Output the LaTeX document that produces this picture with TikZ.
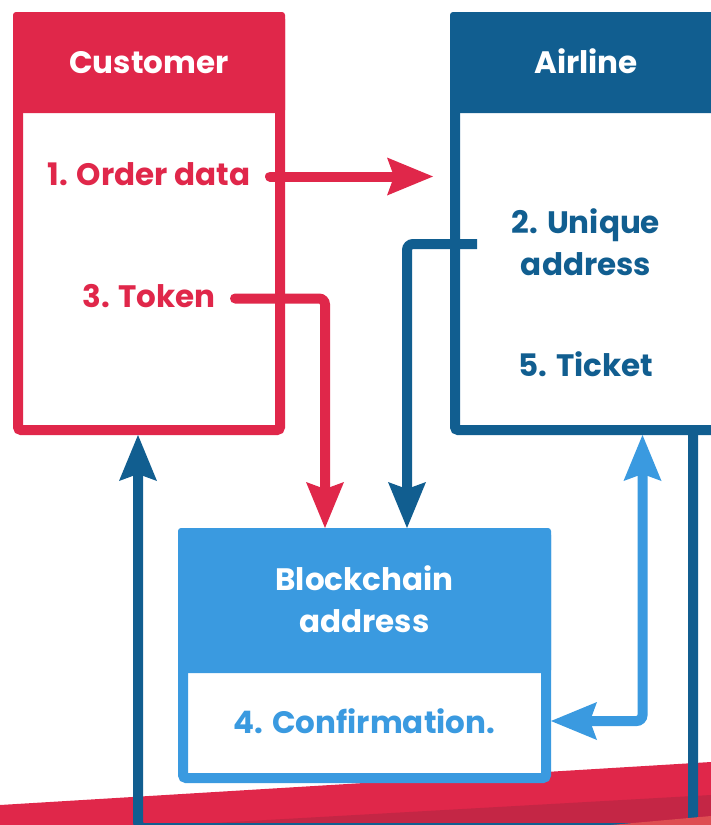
\documentclass[tikz,border=0pt]{standalone}
\usepackage{fontspec}
\setmainfont{Poppins}
\usetikzlibrary{arrows.meta}
\definecolor{cred}{HTML}{E0274A}
\definecolor{cdred}{HTML}{C42645}
\definecolor{csalmon}{HTML}{DE4D52}
\definecolor{cblue}{HTML}{115E90}
\definecolor{clblue}{HTML}{3A9AE0}
\tikzset{
  box/.style={draw, line width=10pt, fill=white, rounded corners=3pt, inner sep=0pt},
  lbl/.style={anchor=base, inner sep=0pt, font=\bfseries\fontsize{31}{36}\selectfont},
  conn/.style={line width=10pt, rounded corners=6pt},
  tip/.style={-{Stealth[length=46pt,width=38pt,inset=7pt,line width=0pt]}},
}
\begin{document}
\begin{tikzpicture}[x=1pt,y=-1pt]
\useasboundingbox (0,0) rectangle (711,825);
\clip (0,0) rectangle (711,825);
\fill[white] (0,0) rectangle (711,825);
% bottom band
\fill[cred] (0,805) -- (711,762) -- (711,830) -- (0,830) -- cycle;
\fill[cdred] (0,835) -- (711,795) -- (711,830) -- cycle;
% boxes
\node[box, draw=cred, minimum width=262pt, minimum height=413pt] (cust) at (149,223.5) {};
\fill[cred, rounded corners=3pt] (13,12) rectangle (285,113);
\node[box, draw=cblue, minimum width=275pt, minimum height=413pt] (air) at (592.5,223.5) {};
\fill[cblue, rounded corners=3pt] (450,12) rectangle (740,113);
\node[box, draw=clblue, minimum width=363pt, minimum height=245pt] (bc) at (364.5,655.5) {};
\fill[clblue, rounded corners=3pt] (178,528) rectangle (551,673);
% labels
\node[lbl, white] (custh) at (149,73) {Customer};
\node[lbl, cred] (order) at (149,185) {1. Order data};
\node[lbl, cred] (token) at (149,307) {3. Token};
\node[lbl, white] (airh) at (586,73) {Airline};
\node[lbl, cblue] (uniq1) at (586,233) {2. Unique};
\node[lbl, cblue] (uniq2) at (586,275) {address};
\node[lbl, cblue] (ticket) at (586,376) {5. Ticket};
\node[lbl, white] (bch1) at (364.5,590) {Blockchain};
\node[lbl, white] (bch2) at (364.5,632) {address};
\node[lbl, clblue] (conf) at (364.5,733) {4. Confirmation.};
% connector end points
\coordinate (oS) at (270,176.5);
\coordinate (oE) at (433,176.5);
\coordinate (tS) at (235,298.5);
\coordinate (tE) at (325,528);
\coordinate (uS) at (477,244);
\coordinate (uE) at (407,528);
\coordinate (cA) at (642.5,435);
\coordinate (cB) at (551,721);
\coordinate (kS) at (693,430);
\coordinate (kR) at (693,828);
\coordinate (kL) at (138,828);
\coordinate (kE) at (138,435);
% connectors
\draw[conn, cred, line cap=round, tip] (oS) -- (oE);
\draw[conn, cred, line cap=round, tip] (tS) -| (tE);
\draw[conn, cblue, tip] (uS) -| (uE);
\draw[conn, clblue, {Stealth[length=46pt,width=38pt,inset=7pt,line width=0pt]}-{Stealth[length=46pt,width=38pt,inset=7pt,line width=0pt]}] (cA) |- (cB);
\draw[conn, cblue, tip] (kS) -- (kR) -- (kL) -- (kE);
\fill[csalmon] (600,826) -- (711,816) -- (711,830) -- (600,830) -- cycle;
\end{tikzpicture}
\end{document}
